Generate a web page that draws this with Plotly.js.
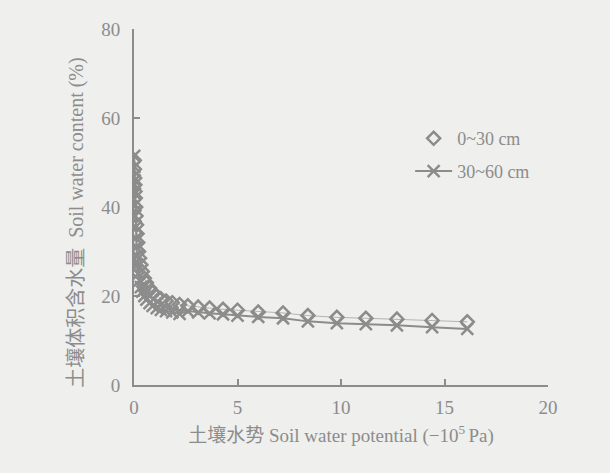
<!DOCTYPE html>
<html>
<head>
<meta charset="utf-8">
<script src="https://cdn.plot.ly/plotly-3.0.1.min.js"></script>
<style>html,body{margin:0;padding:0;background:#efefed;}#chart{width:610px;height:473px;}</style>
</head>
<body>
<div id="chart"></div>
<script>
// Soil water potential (-10^5 Pa)
const potential = [0.01, 0.02, 0.03, 0.04, 0.05, 0.06, 0.08, 0.1, 0.12, 0.15, 0.18, 0.22, 0.27, 0.33, 0.4, 0.5, 0.6, 0.75, 0.9, 1.1, 1.3, 1.55, 1.85, 2.2, 2.6, 3.1, 3.65, 4.3, 5.0, 6.0, 7.2, 8.4, 9.8, 11.2, 12.7, 14.4, 16.1];
// Soil water content (%) 0~30 cm
const content0_30 = [50.5, 48.5, 46.5, 45, 43.5, 42, 40, 38, 36, 34, 32, 30, 28.5, 27, 25.5, 24, 23, 21.8, 20.8, 20, 19.4, 18.9, 18.5, 18.1, 17.8, 17.5, 17.3, 17.0, 16.8, 16.4, 16.2, 15.6, 15.2, 15.0, 14.8, 14.5, 14.2];
// Soil water content (%) 30~60 cm
const content30_60 = [51.5, 49, 46, 43, 40.5, 38, 35.5, 33, 31, 29, 27, 25, 23.5, 22, 21, 20, 19.2, 18.4, 17.8, 17.3, 16.9, 16.6, 16.3, 16.0, 16.6, 16.3, 16.1, 15.9, 15.6, 15.3, 15.0, 14.3, 13.9, 13.7, 13.4, 13.0, 12.6];
const seriesNames = ['0~30 cm', '30~60 cm'];
const xTicks = [0, 5, 10, 15, 20];
const yTicks = [0, 20, 40, 60, 80];
const yTitle = '土壤体积含水量  Soil water content (%)';
const xTitle = '土壤水势 Soil water potential (−10<sup>5 </sup>Pa)';

const gray = '#8c8c8c';
const font = 'Liberation Serif, Noto Sans CJK SC, serif';

const traces = [
  {x: potential, y: content0_30, mode: 'lines', line: {color: '#b4b4b4', width: 1}, showlegend: false, hoverinfo: 'skip'},
  {x: potential, y: content0_30, mode: 'markers', name: seriesNames[0], legend: 'legend',
   marker: {symbol: 'diamond-open', size: 10, color: gray, line: {color: gray, width: 2.5}}},
  {x: potential, y: content30_60, mode: 'lines+markers', name: seriesNames[1], legend: 'legend2',
   line: {color: gray, width: 2},
   marker: {symbol: 'x-thin', size: 12, color: gray, line: {color: gray, width: 2.5}}}
];

const legendStyle = {xanchor: 'left', yanchor: 'top', bgcolor: 'rgba(0,0,0,0)',
  font: {family: font, size: 18, color: gray}, itemwidth: 37};

const layout = {
  width: 610, height: 473,
  paper_bgcolor: '#efefed', plot_bgcolor: 'rgba(0,0,0,0)',
  margin: {l: 134, r: 62, t: 29, b: 88},
  font: {family: font, color: gray, size: 19},
  showlegend: true,
  legend: Object.assign({x: 0.667, y: 0.744}, legendStyle),
  legend2: Object.assign({x: 0.667, y: 0.652}, legendStyle),
  xaxis: {range: [0, 20], tickvals: xTicks, ticktext: xTicks.map(String), ticks: 'inside', ticklen: 6,
          tickcolor: gray, tickwidth: 1.5, showline: true, linecolor: gray, linewidth: 2, showgrid: false, zeroline: false,
          tickfont: {family: font, size: 19, color: gray}, ticklabelstandoff: 4,
          title: {text: xTitle, font: {family: font, size: 19, color: gray}, standoff: 12}},
  yaxis: {range: [0, 80], tickvals: yTicks, ticktext: yTicks.map(String), ticks: 'inside', ticklen: 6,
          tickcolor: gray, tickwidth: 1.5, showline: true, linecolor: gray, linewidth: 2, showgrid: false, zeroline: false,
          tickfont: {family: font, size: 19, color: gray}, ticklabelstandoff: 8},
  annotations: [{text: yTitle, textangle: -90, xref: 'paper', yref: 'paper', x: -0.138, y: 0.458,
                 xanchor: 'center', yanchor: 'middle', showarrow: false,
                 font: {family: font, size: 20, color: gray}}]
};

Plotly.newPlot('chart', traces, layout, {displayModeBar: false});
</script>
</body>
</html>
